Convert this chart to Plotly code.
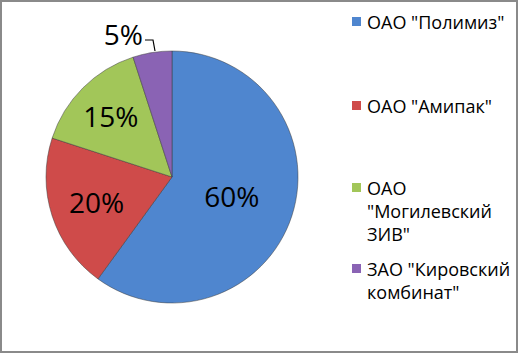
import plotly.graph_objects as go

labels = ['ОАО "Полимиз"', 'ОАО "Амипак"', 'ОАО "Могилевский ЗИВ"', 'ЗАО "Кировский комбинат"']
values = [60, 20, 15, 5]
colors = ["#4F86CF", "#CF4B4A", "#A2C659", "#8A63B4"]
legend_lines = [['ОАО "Полимиз"'], ['ОАО "Амипак"'], ['ОАО', '"Могилевский', 'ЗИВ"'], ['ЗАО "Кировский', 'комбинат"']]
legend_y = [22, 106, 188, 269]  # pixel rows of first line

W, H = 518, 353
FONT = "Open Sans"
LINE = 23

fig = go.Figure(go.Pie(
    labels=labels, values=values, sort=False, direction="clockwise", rotation=0,
    marker=dict(colors=colors, line=dict(color="rgba(60,60,60,0.5)", width=1)),
    texttemplate="%{percent:.0%}",
    textposition=["inside", "inside", "inside", "outside"],
    insidetextorientation="horizontal",
    textfont=dict(family=FONT, size=28, color="#000000"),
    domain=dict(x=[(172 - 126) / W, (172 + 126) / W], y=[(H - 303) / H, (H - 51) / H]),
    showlegend=False, hoverinfo="label+percent",
))

def px(x):
    return x / W

def py(y):
    return (H - y) / H

shapes = [dict(type="rect", xref="paper", yref="paper", x0=0, y0=0, x1=1, y1=1,
               line=dict(color="#8A8A8A", width=4), fillcolor="rgba(0,0,0,0)"),
          # leader line for the small outside label
          dict(type="path", xref="paper", yref="paper",
               path=f"M {px(145)} {py(40)} L {px(153)} {py(40)} L {px(155)} {py(51)}",
               line=dict(color="#000000", width=1.2))]
annotations = []
for i, lines in enumerate(legend_lines):
    y0 = legend_y[i]
    shapes.append(dict(type="rect", xref="paper", yref="paper",
                       x0=px(352), x1=px(361), y0=py(y0 + 4), y1=py(y0 - 5),
                       line=dict(color=colors[i], width=0), fillcolor=colors[i]))
    for j, ln in enumerate(lines):
        annotations.append(dict(xref="paper", yref="paper", x=px(365), y=py(y0 + LINE * j),
                                text=ln, showarrow=False, xanchor="left", yanchor="middle",
                                font=dict(family=FONT, size=18, color="#000000")))

fig.update_layout(width=W, height=H, margin=dict(l=0, r=0, t=0, b=0),
                  paper_bgcolor="white", plot_bgcolor="white",
                  shapes=shapes, annotations=annotations)
fig.write_html("out.html")
